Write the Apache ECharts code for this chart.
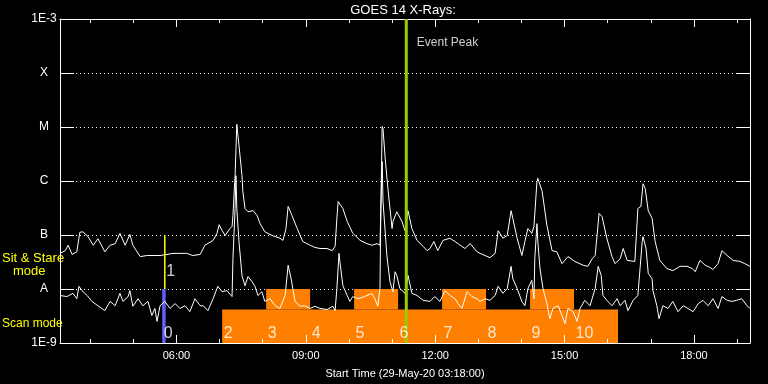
<!DOCTYPE html>
<html><head><meta charset="utf-8">
<script src="https://cdn.jsdelivr.net/npm/echarts@6/dist/echarts.min.js"></script>
<style>html,body{margin:0;background:#000}#c{width:768px;height:384px}</style>
</head><body><div id="c"></div><script>
// time in hours (UT), flux as log10(W/m^2)
const longChannel = [[3.30,-7.34],[3.42,-7.29],[3.49,-7.19],[3.58,-7.36],[3.69,-7.31],[3.76,-6.95],[3.83,-6.94],[3.95,-7.03],[4.07,-7.19],[4.18,-7.07],[4.34,-7.31],[4.46,-7.19],[4.58,-7.16],[4.69,-6.97],[4.81,-7.19],[4.92,-6.99],[4.99,-7.19],[5.16,-7.40],[5.32,-7.38],[5.62,-7.38],[5.92,-7.34],[6.24,-7.34],[6.38,-7.38],[6.55,-7.36],
[6.66,-7.19],[6.85,-7.10],[6.94,-6.97],[6.99,-6.81],[7.06,-6.92],[7.13,-7.01],[7.24,-6.88],[7.29,-6.84],[7.31,-6.64],[7.36,-5.90],[7.40,-4.95],[7.43,-4.92],[7.45,-5.34],[7.52,-5.90],[7.54,-6.19],[7.59,-6.51],[7.66,-6.57],[7.78,-6.55],[7.87,-6.64],[7.94,-6.79],[8.05,-6.94],[8.22,-7.01],[8.40,-7.06],[8.47,-7.10],[8.54,-6.88],[8.59,-6.47],[8.68,-6.64],[8.80,-6.88],[8.93,-7.12],[9.10,-7.19],[9.21,-7.23],[9.33,-7.25],[9.49,-7.25],[9.61,-7.29],[9.68,-7.21],[9.72,-6.69],[9.75,-6.38],[9.79,-6.36],
[9.86,-6.51],[9.96,-6.75],[10.09,-6.97],[10.26,-7.10],[10.42,-7.16],[10.53,-7.19],[10.65,-7.16],[10.72,-7.19],[10.74,-6.51],[10.77,-4.99],[10.79,-5.03],[10.84,-5.58],[10.91,-6.19],[11.00,-6.88],[11.02,-6.75],[11.11,-6.57],[11.23,-6.75],[11.30,-6.92],[11.37,-6.55],[11.46,-6.88],[11.58,-7.10],[11.72,-7.21],[11.81,-7.29],[11.88,-7.25],[11.97,-7.12],[12.06,-7.29],[12.18,-7.10],[12.34,-7.06],[12.46,-7.12],[12.58,-7.19],[12.69,-7.25],[12.81,-7.16],[12.97,-7.31],[13.04,-7.34],
[13.27,-7.42],[13.39,-7.34],[13.46,-6.92],[13.57,-7.06],[13.67,-7.01],[13.76,-6.55],[13.80,-6.69],[13.90,-7.06],[14.01,-7.38],[14.08,-7.12],[14.15,-6.88],[14.24,-6.97],[14.29,-6.84],[14.36,-6.01],[14.38,-5.95],[14.48,-6.19],[14.59,-6.82],[14.71,-7.29],[14.82,-7.31],[14.94,-7.53],[15.08,-7.40],[15.24,-7.49],[15.43,-7.56],[15.54,-7.58],[15.64,-7.44],[15.71,-7.38],[15.80,-6.60],[15.87,-6.66],[15.98,-7.06],[16.10,-7.40],[16.17,-7.53],[16.29,-7.44],
[16.36,-7.25],[16.45,-7.47],[16.63,-7.49],[16.70,-6.51],[16.77,-6.47],[16.82,-6.05],[16.87,-6.14],[16.94,-6.55],[17.03,-6.69],[17.10,-7.12],[17.21,-7.47],[17.37,-7.62],[17.51,-7.66],[17.68,-7.58],[17.84,-7.58],[17.96,-7.62],[18.03,-7.68],[18.14,-7.47],[18.26,-7.56],[18.37,-7.60],[18.44,-7.64],[18.56,-7.53],[18.65,-7.29],[18.77,-7.38],[18.91,-7.47],[19.07,-7.49],[19.18,-7.53],[19.30,-7.58]];

const shortChannel = [[3.30,-8.12],[3.46,-8.14],[3.60,-8.08],[3.69,-8.18],[3.74,-7.95],[3.81,-8.03],[3.93,-8.12],[4.04,-8.23],[4.18,-8.31],[4.34,-8.40],[4.46,-8.23],[4.58,-8.31],[4.69,-8.08],[4.76,-8.23],[4.88,-8.14],[4.92,-8.03],[4.99,-8.32],[5.11,-8.18],[5.22,-8.31],[5.34,-8.23],[5.43,-8.49],[5.50,-8.36],[5.55,-8.60],[5.62,-8.31],[5.73,-8.23],[5.85,-8.36],[5.97,-8.27],[6.08,-8.36],[6.20,-8.31],[6.31,-8.42],[6.43,-8.18],[6.55,-8.31],
[6.62,-8.31],[6.73,-8.40],[6.85,-8.18],[6.96,-7.95],[7.06,-8.05],[7.17,-8.03],[7.29,-8.14],[7.31,-7.44],[7.36,-6.51],[7.38,-5.90],[7.40,-6.51],[7.45,-7.12],[7.52,-7.75],[7.59,-7.94],[7.66,-7.77],[7.75,-7.86],[7.82,-7.95],[7.89,-8.12],[7.98,-8.05],[8.05,-8.23],[8.17,-8.18],[8.29,-8.31],[8.40,-8.36],[8.52,-8.12],[8.59,-7.56],[8.66,-7.81],[8.75,-8.23],[8.87,-8.32],[8.98,-8.31],[9.10,-8.36],[9.21,-8.32],[9.33,-8.36],[9.49,-8.38],[9.63,-8.32],[9.68,-8.40],[9.72,-7.99],[9.77,-7.34],
[9.79,-7.49],[9.86,-7.94],[9.96,-8.12],[10.02,-8.23],[10.09,-8.14],[10.21,-8.18],[10.37,-8.14],[10.53,-8.08],[10.60,-8.18],[10.67,-8.32],[10.72,-7.99],[10.74,-6.51],[10.77,-5.64],[10.79,-6.38],[10.88,-7.38],[10.95,-7.86],[11.02,-8.05],[11.07,-7.68],[11.11,-7.75],[11.18,-7.99],[11.30,-8.08],[11.37,-7.75],[11.46,-8.08],[11.58,-8.12],[11.72,-8.21],[11.88,-8.23],[11.99,-8.14],[12.11,-8.23],[12.23,-8.03],[12.34,-8.12],[12.46,-8.18],[12.53,-8.27],[12.62,-8.36],[12.74,-8.05],[12.85,-8.14],[12.97,-8.18],[13.04,-8.23],
[13.16,-8.18],[13.27,-8.21],[13.39,-8.12],[13.46,-7.95],[13.57,-8.08],[13.67,-7.99],[13.76,-7.58],[13.80,-7.81],[13.90,-7.99],[14.01,-8.23],[14.08,-8.31],[14.15,-7.99],[14.24,-7.84],[14.29,-8.18],[14.31,-7.44],[14.36,-6.79],[14.38,-7.12],[14.43,-7.62],[14.50,-7.99],[14.59,-8.27],[14.66,-8.55],[14.73,-8.36],[14.85,-8.31],[14.94,-8.49],[15.01,-8.64],[15.08,-8.36],[15.20,-8.42],[15.29,-8.60],[15.36,-8.36],[15.47,-8.21],[15.59,-8.31],[15.71,-7.99],[15.78,-7.58],[15.85,-7.75],[15.89,-8.12],[15.98,-8.21],[16.10,-8.31],[16.22,-8.18],[16.29,-8.31],
[16.40,-8.21],[16.47,-8.40],[16.59,-8.21],[16.70,-8.12],[16.75,-7.62],[16.80,-7.12],[16.82,-7.03],[16.89,-7.25],[16.94,-7.71],[17.03,-7.81],[17.05,-8.03],[17.14,-8.31],[17.19,-8.55],[17.28,-8.31],[17.40,-8.36],[17.51,-8.23],[17.63,-8.42],[17.75,-8.31],[17.86,-8.36],[17.98,-8.42],[18.10,-8.27],[18.21,-8.21],[18.33,-8.31],[18.44,-8.18],[18.56,-8.36],[18.65,-8.14],[18.77,-8.21],[18.88,-8.23],[18.99,-8.21],[19.11,-8.18],[19.23,-8.31],[19.30,-8.36]];

const xTickHours = [6, 9, 12, 15, 18];
const xTickLabels = ['06:00', '09:00', '12:00', '15:00', '18:00'];
const xMinorHours = [4,5,6,7,8,9,10,11,12,13,14,15,16,17,18,19];
const yTickLabels = ['1E-9', 'A', 'B', 'C', 'M', 'X', '1E-3'];

const scanStarts = [7.06, 8.08, 9.10, 10.12, 11.14, 12.16, 13.18, 14.20, 15.22];
const scanEnd = 16.24;
const scanNames = ['2', '3', '4', '5', '6', '7', '8', '9', '10'];
const raisedScans = ['3', '5', '7', '9'];
const scanLowTop = -8.38;
const scanHighTop = -8.0;
const scanZero = [5.67, 5.75, -9, -8];
const sitStareOne = [5.73, -7, -8];
const eventPeak = 11.33;
const xRange = [3.3, 19.3];

const orangeRects = [[scanStarts[0], scanEnd, -9, scanLowTop]];
scanStarts.forEach((s, i) => {
  if (raisedScans.includes(scanNames[i])) {
    const e = i + 1 < scanStarts.length ? scanStarts[i + 1] : scanEnd;
    orangeRects.push([s, e, scanLowTop, scanHighTop]);
  }
});
const numberLabels = scanStarts.map((s, i) => [s, -8.82, scanNames[i]]);
numberLabels.push([scanZero[0], -8.82, '0']);
numberLabels.push([sitStareOne[0], -7.68, '1']);

const FONT = 'Liberation Sans';
const rectRender = (params, api) => {
  const p0 = api.coord([api.value(0), api.value(3)]);
  const p1 = api.coord([api.value(1), api.value(2)]);
  return {type: 'rect', shape: {x: p0[0], y: p0[1], width: p1[0] - p0[0], height: p1[1] - p0[1]},
          style: {fill: api.visual('color')}};
};
const baseX = {type: 'value', min: xRange[0], max: xRange[1], splitLine: {show: false}, z: 5,
  axisLine: {show: false, lineStyle: {color: '#fff', width: 1}}};

const chart = echarts.init(document.getElementById('c'));
chart.setOption({
  backgroundColor: '#000',
  animation: false,
  grid: {left: 60, right: 18, top: 19, bottom: 41},
  graphic: [
    {type: 'text', x: 403, y: 10, style: {text: 'GOES 14 X-Rays:', fill: '#fff', font: '13px ' + FONT, textAlign: 'center', textVerticalAlign: 'middle'}},
    {type: 'text', x: 2, y: 258, style: {text: 'Sit & Stare', fill: '#ffff00', font: '13px ' + FONT, textVerticalAlign: 'middle'}},
    {type: 'text', x: 13, y: 271, style: {text: 'mode', fill: '#ffff00', font: '13px ' + FONT, textVerticalAlign: 'middle'}},
    {type: 'text', x: 2, y: 324, style: {text: 'Scan mode', fill: '#ffff00', font: '12px ' + FONT, textVerticalAlign: 'middle'}}
  ],
  xAxis: [
    Object.assign({}, baseX, {position: 'bottom',
      axisLine: {show: true, lineStyle: {color: '#fff', width: 1}},
      axisTick: {show: true, inside: true, length: 8, customValues: xTickHours, lineStyle: {color: '#fff'}},
      axisLabel: {show: true, customValues: xTickHours, color: '#fff', fontSize: 11, fontFamily: FONT, margin: 7,
        formatter: v => xTickLabels[xTickHours.indexOf(v)]},
      name: 'Start Time (29-May-20 03:18:00)', nameLocation: 'middle', nameGap: 25,
      nameTextStyle: {color: '#fff', fontSize: 11, fontFamily: FONT}}),
    Object.assign({}, baseX, {position: 'bottom',
      axisTick: {show: true, inside: true, length: 4, customValues: xMinorHours, lineStyle: {color: '#fff'}},
      axisLabel: {show: false}}),
    Object.assign({}, baseX, {position: 'top',
      axisLine: {show: true, lineStyle: {color: '#fff', width: 1}},
      axisTick: {show: true, inside: true, length: 8, customValues: xTickHours, lineStyle: {color: '#fff'}},
      axisLabel: {show: false}}),
    Object.assign({}, baseX, {position: 'top',
      axisTick: {show: true, inside: true, length: 4, customValues: xMinorHours, lineStyle: {color: '#fff'}},
      axisLabel: {show: false}})
  ],
  yAxis: [
    {type: 'value', min: -9, max: -3, interval: 1, position: 'left',
      axisLine: {show: true, lineStyle: {color: '#fff', width: 1}},
      axisTick: {show: true, inside: true, length: 14, lineStyle: {color: '#fff'}},
      axisLabel: {color: '#fff', fontSize: 12, fontFamily: FONT, align: 'center', margin: 16,
        formatter: v => yTickLabels[Math.round(v + 9)]},
      splitLine: {show: true, lineStyle: {color: '#fff', width: 1, type: [1, 3]}}},
    {type: 'value', min: -9, max: -3, interval: 1, position: 'right',
      axisLine: {show: true, lineStyle: {color: '#fff', width: 1}},
      axisTick: {show: true, inside: true, length: 14, lineStyle: {color: '#fff'}},
      axisLabel: {show: false}, splitLine: {show: false}}
  ],
  series: [
    {type: 'custom', name: 'scan', z: 1, data: orangeRects, encode: {x: [0, 1], y: [2, 3]},
      itemStyle: {color: '#ff8000'}, renderItem: rectRender, silent: true},
    {type: 'custom', name: 'scan0', z: 1, data: [scanZero], encode: {x: [0, 1], y: [2, 3]},
      itemStyle: {color: '#6060ff'}, renderItem: rectRender, silent: true},
    {type: 'line', name: 'long', z: 2, data: longChannel, showSymbol: false, symbol: 'none',
      lineStyle: {color: '#fff', width: 1}},
    {type: 'line', name: 'short', z: 2, data: shortChannel, showSymbol: false, symbol: 'none',
      lineStyle: {color: '#fff', width: 1}},
    {type: 'line', name: 'sitstare', z: 3, symbol: 'none',
      data: [[sitStareOne[0], sitStareOne[1]], [sitStareOne[0], sitStareOne[2]]],
      lineStyle: {color: '#ffff00', width: 1.5}},
    {type: 'line', name: 'peak', z: 6, symbol: 'none',
      data: [[eventPeak, -9], [eventPeak, -3]], lineStyle: {color: '#99cc00', width: 3}},
    {type: 'scatter', name: 'nums', z: 7, symbolSize: 1, itemStyle: {color: 'rgba(0,0,0,0)'},
      data: numberLabels,
      label: {show: true, position: 'right', distance: 1, color: '#fff', fontSize: 16, fontFamily: FONT,
        formatter: p => p.value[2]}},
    {type: 'scatter', name: 'peaklabel', z: 7, symbolSize: 1, itemStyle: {color: 'rgba(0,0,0,0)'},
      data: [[eventPeak, -3.435, 'Event Peak']],
      label: {show: true, position: 'right', distance: 10, color: '#fff', fontSize: 12, fontFamily: FONT,
        formatter: p => p.value[2]}}
  ]
});
</script></body></html>
